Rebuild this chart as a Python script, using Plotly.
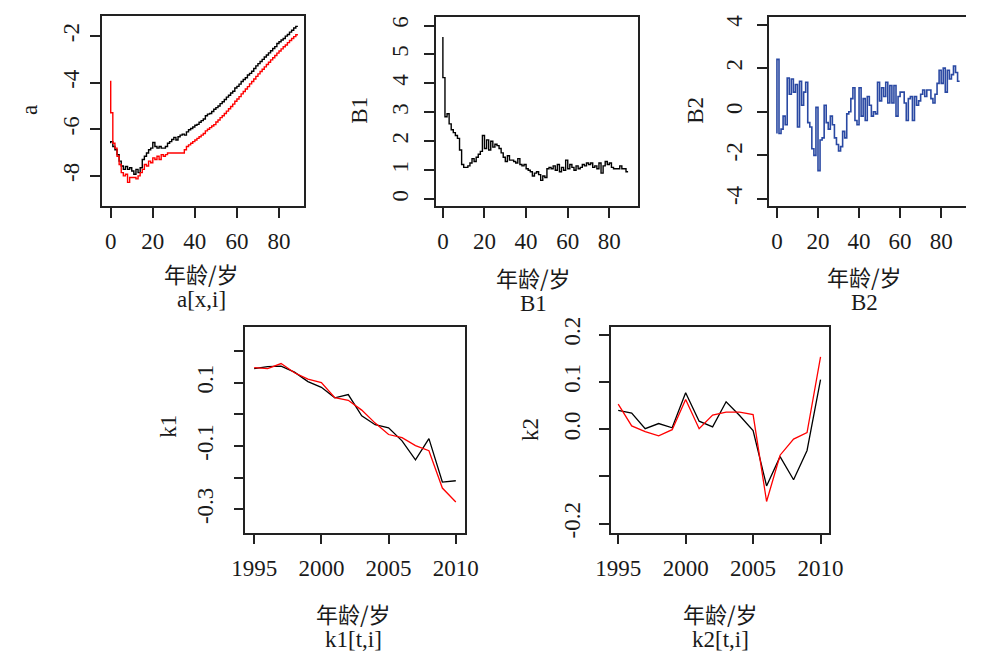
import plotly.graph_objects as go

W, H = 981, 660

ages = list(range(90))

a_black = [-6.60, -6.53, -6.74, -6.88, -7.09, -7.37, -7.58, -7.72, -7.60, -7.72,
           -7.65, -7.79, -7.93, -7.72, -7.86, -7.65, -7.30, -7.16, -7.02, -6.88,
           -6.81, -6.57, -6.74, -6.81, -6.74, -6.81, -6.81, -6.74, -6.60, -6.53,
           -6.44, -6.35, -6.46, -6.32, -6.25, -6.21, -6.25, -6.11, -6.02, -5.97,
           -5.90, -5.83, -5.79, -5.70, -5.63, -5.56, -5.42, -5.35, -5.32, -5.24,
           -5.14, -5.07, -5.00, -4.90, -4.82, -4.72, -4.62, -4.54, -4.44, -4.37,
           -4.23, -4.16, -4.06, -3.95, -3.86, -3.79, -3.67, -3.60, -3.51, -3.39,
           -3.28, -3.18, -3.09, -3.00, -2.90, -2.81, -2.72, -2.63, -2.53, -2.45,
           -2.32, -2.24, -2.17, -2.10, -2.00, -1.93, -1.83, -1.75, -1.65, -1.58]

a_red = [-3.92, -5.29, -6.60, -6.81, -7.16, -7.51, -7.86, -8.00, -7.93, -8.28,
         -8.07, -8.07, -8.07, -8.13, -8.00, -7.86, -7.72, -7.51, -7.58, -7.37,
         -7.44, -7.23, -7.30, -7.16, -7.30, -7.09, -7.16, -7.09, -7.02, -7.02,
         -7.02, -7.02, -7.02, -7.02, -7.02, -7.02, -6.88, -6.74, -6.67, -6.60,
         -6.53, -6.46, -6.39, -6.32, -6.25, -6.18, -6.07, -6.00, -5.93, -5.86,
         -5.80, -5.69, -5.60, -5.50, -5.42, -5.32, -5.22, -5.12, -5.02, -4.92,
         -4.80, -4.70, -4.60, -4.48, -4.38, -4.27, -4.17, -4.05, -3.95, -3.84,
         -3.73, -3.62, -3.52, -3.42, -3.32, -3.22, -3.12, -3.02, -2.93, -2.83,
         -2.73, -2.64, -2.55, -2.46, -2.38, -2.28, -2.19, -2.10, -2.02, -1.94]

b1 = [5.60, 4.20, 2.85, 2.95, 2.60, 2.40, 2.30, 2.20, 2.10, 1.70,
      1.20, 1.10, 1.10, 1.15, 1.25, 1.40, 1.30, 1.45, 1.55, 1.65,
      2.20, 1.75, 2.05, 1.70, 2.00, 1.80, 1.90, 1.85, 1.75, 1.60,
      1.45, 1.30, 1.50, 1.35, 1.35, 1.30, 1.25, 1.40, 1.20, 1.15,
      1.20, 1.05, 1.00, 0.95, 0.80, 0.90, 0.95, 0.85, 0.65, 0.80,
      0.75, 1.05, 1.10, 1.05, 1.15, 1.00, 1.20, 0.95, 1.10, 1.00,
      1.35, 1.05, 1.20, 1.10, 1.00, 1.15, 1.05, 1.10, 1.20, 1.15,
      1.25, 1.20, 1.25, 1.10, 1.15, 1.05, 1.25, 0.90, 1.15, 1.30,
      1.20, 1.25, 1.10, 1.05, 1.05, 1.05, 1.15, 1.05, 1.05, 0.95]

b2 = [-1.0, 2.4, -1.0, -0.8, -0.2, -0.6, 1.55, 0.8, 1.5, 0.9,
      1.25, -0.7, 1.4, 0.3, 0.9, 1.35, -0.5, -0.7, -1.7, -2.0,
      0.2, -2.7, -1.3, -1.2, 0.3, -0.5, -0.8, -0.2, -0.6, -1.2,
      -1.5, -1.8, -1.6, -0.9, -1.2, -0.1, 0.0, 0.6, 1.1, -0.4,
      -0.6, 1.1, -0.2, 0.6, -0.4, 0.7, 0.3, -0.2, 0.0, -0.1,
      1.35, 0.5, 1.1, 0.7, 1.35, 0.4, 1.2, 0.4, 1.2, -0.2,
      0.7, 0.9, 0.9, 0.4, -0.4, 0.6, 0.7, -0.4, 0.7, 0.3,
      0.5, 0.8, 1.0, 0.7, 1.0, 1.0, 0.6, 0.4, 0.8, 1.3,
      1.9, 1.3, 2.0, 0.9, 1.9, 1.5, 1.7, 2.1, 1.8, 1.4]

years = list(range(1995, 2011))

k1_black = [0.144, 0.150, 0.152, 0.133, 0.103, 0.085, 0.052, 0.062,
            -0.005, -0.033, -0.043, -0.084, -0.144, -0.077, -0.214, -0.210]
k1_red = [0.147, 0.144, 0.160, 0.131, 0.111, 0.100, 0.052, 0.044,
          0.013, -0.028, -0.064, -0.074, -0.099, -0.115, -0.233, -0.277]

k2_black = [0.040, 0.034, 0.001, 0.012, 0.003, 0.077, 0.017, 0.005,
            0.058, 0.029, -0.003, -0.120, -0.058, -0.107, -0.045, 0.105]
k2_red = [0.053, 0.007, -0.005, -0.014, -0.001, 0.063, 0.001, 0.030,
          0.036, 0.036, 0.031, -0.153, -0.055, -0.021, -0.007, 0.153]

age_ticks = [0, 20, 40, 60, 80]
year_ticks = [1995, 2000, 2005, 2010]

FONT = "Liberation Serif"
CJK = "Noto Sans CJK SC"
AX = "#222222"
TXT = "#1a1a1a"


def dx(a, b):
    return [a / W, min(b / W, 1.0)]


def dy(top, bottom):
    return [1 - bottom / H, 1 - top / H]


fig = go.Figure()

panels = [
    dict(xd=(89.3, 297.7), yd=(6, 201), xr=[-4.35, 91.7], yr=[-9.3, -1.13], ys=2,
         xt=age_ticks, yt=[-8, -6, -4, -2], ytt=["-8", "-6", "-4", "-2"], my=True),
    dict(xd=(434.3, 642.3), yd=(7.3, 201), xr=[-3.3, 93.6], yr=[-0.24, 6.29], ys=7,
         xt=age_ticks, yt=[0, 1, 2, 3, 4, 5, 6], ytt=["0", "1", "2", "3", "4", "5", "6"], my=True),
    dict(xd=(777.3, 981), yd=(7.3, 201), xr=[-4.1, 92.1], yr=[-4.33, 4.34], ys=6,
         xt=age_ticks, yt=[-4, -2, 0, 2, 4], ytt=["-4", "-2", "0", "2", "4"], my=False),
    dict(xd=(237.7, 464), yd=(325, 535.7), xr=[1994.35, 2010.67], yr=[-0.374, 0.275], ys=11,
         xt=year_ticks, yt=[-0.3, -0.2, -0.1, 0.0, 0.1, 0.2], ytt=["-0.3", "", "-0.1", "", "0.1", ""], my=True),
    dict(xd=(614.3, 839.3), yd=(325, 535.7), xr=[1994.43, 2010.6], yr=[-0.219, 0.216], ys=10,
         xt=year_ticks, yt=[-0.2, -0.1, 0.0, 0.1, 0.2], ytt=["-0.2", "", "0.0", "0.1", "0.2"], my=True),
]

layout = {}
for i, p in enumerate(panels, start=1):
    s = "" if i == 1 else str(i)
    layout["xaxis" + s] = dict(
        domain=dx(*p["xd"]), range=p["xr"], anchor="y" + s,
        tickmode="array", tickvals=p["xt"], ticktext=[str(v) for v in p["xt"]],
        ticks="outside", ticklen=10, tickwidth=1.5, tickcolor=AX,
        showline=True, linecolor=AX, linewidth=1.5, mirror=True,
        showgrid=False, zeroline=False,
        tickfont=dict(family=FONT, size=23, color=TXT),
        ticklabelstandoff=4,
    )
    layout["yaxis" + s] = dict(
        domain=dy(*p["yd"]), range=p["yr"], anchor="x" + s,
        tickmode="array", tickvals=p["yt"], ticktext=p["ytt"],
        ticks="outside", ticklen=10, tickwidth=1.5, tickcolor=AX,
        showline=True, linecolor=AX, linewidth=1.5, mirror=p["my"],
        showgrid=False, zeroline=False, tickangle=-90,
        tickfont=dict(family=FONT, size=23, color=TXT),
        ticklabelstandoff=p["ys"],
    )

fig.add_trace(go.Scatter(x=ages, y=a_black, mode="lines", line=dict(color="black", width=1.4, shape="vh"),
                         xaxis="x", yaxis="y"))
fig.add_trace(go.Scatter(x=ages, y=a_red, mode="lines", line=dict(color="#ff0000", width=1.4, shape="vh"),
                         xaxis="x", yaxis="y"))
fig.add_trace(go.Scatter(x=ages, y=b1, mode="lines", line=dict(color="black", width=1.4, shape="vh"),
                         xaxis="x2", yaxis="y2"))
fig.add_trace(go.Scatter(x=ages, y=b2, mode="lines", line=dict(color="#2a49a3", width=1.6, shape="vh"),
                         xaxis="x3", yaxis="y3"))
fig.add_trace(go.Scatter(x=years, y=k1_black, mode="lines", line=dict(color="black", width=1.3),
                         xaxis="x4", yaxis="y4"))
fig.add_trace(go.Scatter(x=years, y=k1_red, mode="lines", line=dict(color="#ff0000", width=1.3),
                         xaxis="x4", yaxis="y4"))
fig.add_trace(go.Scatter(x=years, y=k2_black, mode="lines", line=dict(color="black", width=1.3),
                         xaxis="x5", yaxis="y5"))
fig.add_trace(go.Scatter(x=years, y=k2_red, mode="lines", line=dict(color="#ff0000", width=1.3),
                         xaxis="x5", yaxis="y5"))

annotations = []


def ann(text, px, py, angle=0, size=23, family=FONT, yanchor="middle", yshift=0):
    annotations.append(dict(text=text, x=px / W, y=1 - py / H, xref="paper", yref="paper",
                            xanchor="center", yanchor=yanchor, showarrow=False, textangle=angle,
                            borderpad=0, yshift=yshift,
                            font=dict(family=family, size=size, color=TXT)))


ann("a", 15, 103, -90)
ann("B1", 355, 103, -90)
ann("B2", 701.7, 103, -90)
ann("k1", 158, 427, -90)
ann("k2", 531.7, 430, -90)

xlab = "年龄/岁"
for cx, by, sub in [(192, 285, "a[x,i]"), (535, 289, "B1"), (876, 288, "B2"),
                    (349, 633, "k1[t,i]"), (728, 633, "k2[t,i]")]:
    ann(xlab, cx, by, 0, size=22, family=CJK, yanchor="bottom", yshift=-2)
    ann(sub, cx, by, 0, size=23, yanchor="top", yshift=2)

fig.update_layout(**layout)
fig.update_layout(
    width=W, height=H, margin=dict(l=0, r=0, t=0, b=0),
    paper_bgcolor="white", plot_bgcolor="white", showlegend=False,
    annotations=annotations,
)

fig.write_html("out.html")
